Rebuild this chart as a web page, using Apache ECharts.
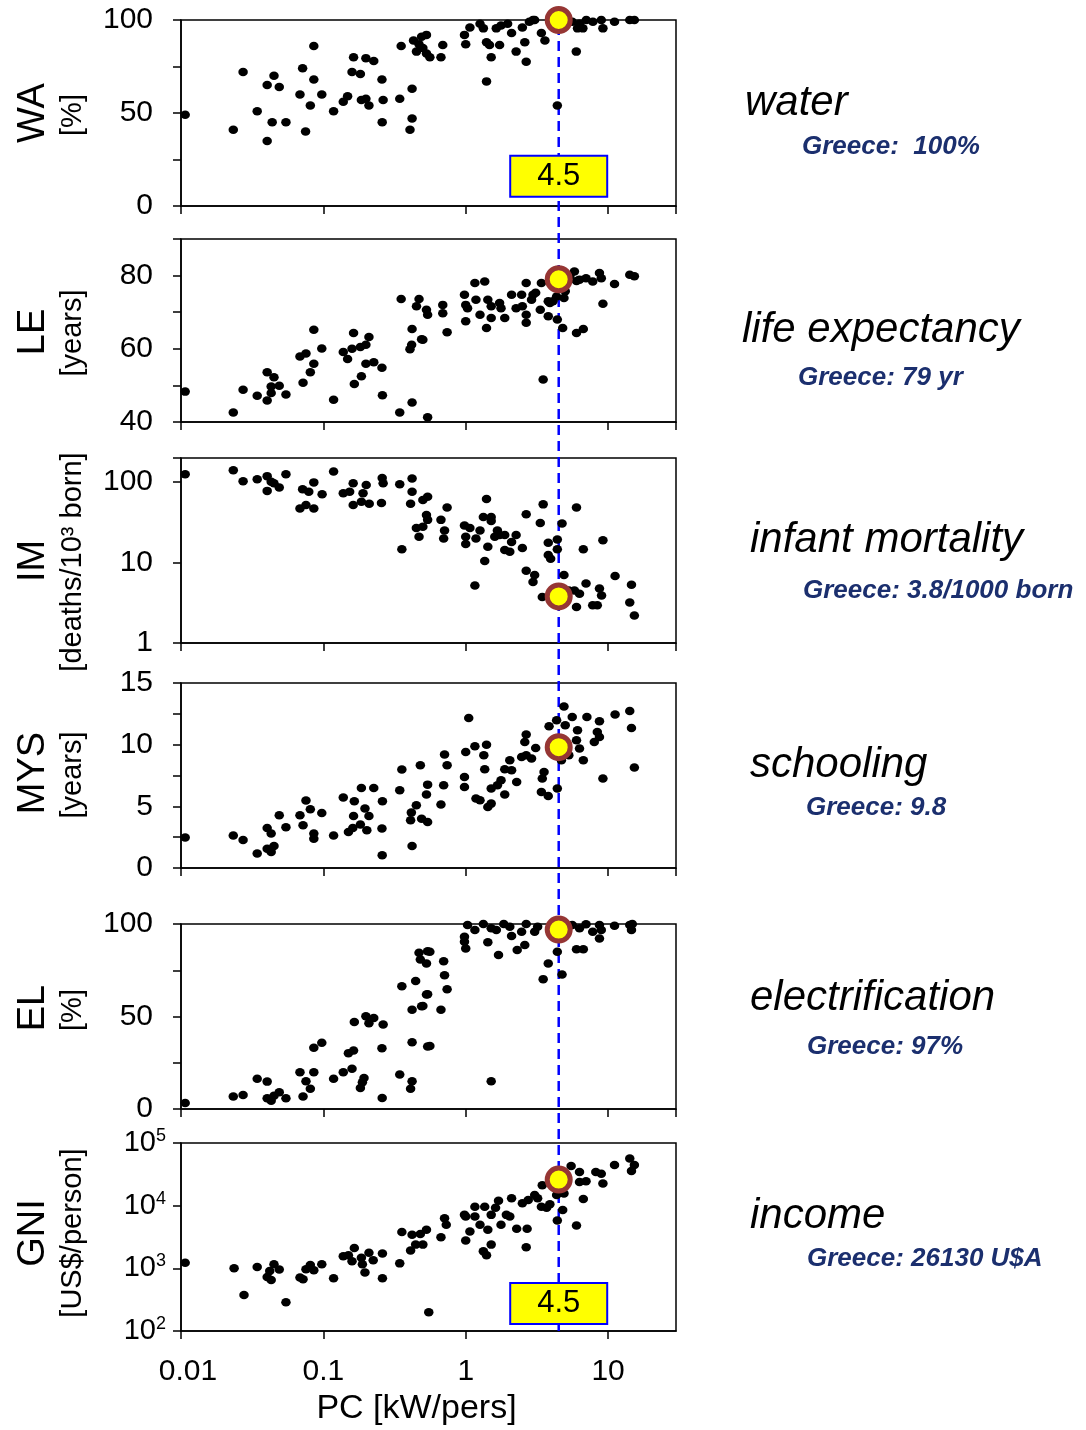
<!DOCTYPE html>
<html>
<head>
<meta charset="utf-8">
<title>Development indicators vs. power consumption</title>
<script src="https://cdn.jsdelivr.net/npm/echarts@6/dist/echarts.min.js"></script>
<style>
  html, body { margin: 0; padding: 0; background: #fff; }
  #chart { width: 1086px; height: 1430px; }
</style>
</head>
<body>
<div id="chart"></div>
<script>
// ---- data: [PC kW/person, indicator] per country ----
const waPoints = [
  [0.0107,49],[0.0233,41],[0.0273,72],[0.0343,51],[0.0403,35],[0.0437,45],[0.0403,65],[0.045,70],
  [0.049,64],[0.0546,45],[0.0685,60],[0.0715,74],[0.075,40],[0.081,54],[0.0857,86],[0.0857,68],
  [0.0975,60],[0.118,51],[0.138,56],[0.148,59],[0.163,80],[0.159,72],[0.182,71],[0.199,79.5],
  [0.226,78],[0.185,57],[0.199,57.6],[0.209,54],[0.258,68],[0.263,57],[0.259,45],[0.344,57.6],
  [0.42,63],[0.42,47],[0.406,41],[0.352,86],[0.43,89],[0.451,83],[0.47,87],[0.49,91],[0.53,92],
  [0.50,85],[0.53,82],[0.56,80],[0.69,86.5],[0.67,80],[0.98,92],[1.0,87],[1.07,96],[1.26,98],
  [1.33,95.5],[1.40,88],[1.47,86.5],[1.51,80],[1.40,67],[1.64,95.5],[1.77,97],[1.97,98],[1.73,86.5],
  [2.1,93],[2.26,83],[2.6,88],[2.66,77.5],[2.5,96],[2.97,100],[3.4,93],[3.6,89],[2.8,99],[3.05,100],
  [5.98,83],[4.4,54],[6.3,98],[6.65,95.5],[7.03,100],[7.82,99],[8.96,100],[9.2,95.5],[11.1,99],
  [14.2,100],[15.3,100],[5.6,99],[6.1,95.5]
];
const lePoints = [
  [0.0107,48.3],[0.0233,42.6],[0.0273,48.8],[0.0343,47.2],[0.0403,53.6],[0.0403,45.9],[0.045,52.2],
  [0.043,49.7],[0.049,49.9],[0.043,47.9],[0.0546,47.5],[0.0685,57.9],[0.0755,58.7],[0.072,50.7],
  [0.081,53.6],[0.0857,55.9],[0.0857,65.2],[0.0975,60.1],[0.118,46.1],[0.138,59.1],[0.148,57.2],
  [0.163,64.3],[0.159,60],[0.182,60.5],[0.199,61.1],[0.209,63.2],[0.165,50.4],[0.185,52.5],
  [0.199,55.9],[0.226,56.3],[0.258,54.8],[0.26,47.3],[0.344,42.6],[0.42,45.3],[0.54,41.3],
  [0.352,73.6],[0.47,73.6],[0.451,71.6],[0.53,70.7],[0.42,65.4],[0.49,62.6],[0.417,61.1],[0.406,59.9],
  [0.54,69.3],[0.50,62.5],[0.69,72],[0.69,69.7],[0.74,64.5],[0.98,74.8],[1.0,72],[1.03,71.1],
  [1.0,67.5],[1.16,78],[1.36,78.4],[1.18,73.4],[1.43,73.4],[1.51,71.6],[1.73,72.5],[1.77,71.1],
  [1.26,69.3],[1.4,65.7],[1.51,68.4],[1.88,68.4],[2.1,74.8],[2.47,74.8],[2.66,78],[2.26,71.1],
  [2.5,71.6],[2.66,69.3],[2.66,67.1],[2.97,74.8],[3.1,75.3],[2.9,73.4],[3.34,70.7],[3.8,68.9],
  [3.8,73],[3.9,72.5],[3.4,78],[3.5,51.6],[4.4,68],[4.8,65.7],[4.1,73],[4.35,74.3],[4.9,73.9],
  [5.0,75.7],[5.4,80],[5.8,81.1],[6.0,78.5],[6.3,78.9],[7.0,79.3],[7.8,78.4],[8.7,80.7],[8.96,79.3],
  [11.1,77.7],[9.2,72.3],[6.0,64.3],[6.7,65.4],[14.2,80.2],[15.3,79.8]
];
const imPoints = [
  [0.0107,126],[0.0233,141],[0.0273,103],[0.0343,109],[0.0403,119],[0.043,101],[0.049,86],[0.0403,78],
  [0.045,97],[0.0546,126],[0.0715,82],[0.0857,99.5],[0.079,76],[0.098,71],[0.0685,47],[0.0755,52],
  [0.0857,47],[0.118,136],[0.138,73],[0.162,97],[0.153,76],[0.2,92],[0.19,73],[0.162,52],[0.185,57],
  [0.21,54],[0.256,55],[0.259,113],[0.263,97],[0.344,94],[0.42,111],[0.42,76],[0.41,54],[0.5,60],
  [0.54,66],[0.53,39],[0.45,27],[0.47,21],[0.356,14.7],[0.54,34],[0.5,28],[0.74,48.5],[0.67,34],
  [0.71,25],[0.70,20],[1.4,62],[1.33,37],[1.51,37],[1.51,33],[0.98,29],[1.07,27],[1.0,21],[1.0,17],
  [1.18,20],[1.26,25],[1.67,25],[1.73,22],[1.6,21],[1.88,22],[1.43,15.7],[1.36,10.5],[1.16,5.2],
  [2.1,18],[2.26,22],[1.88,14.3],[2.04,13.6],[2.5,15.2],[2.66,40],[3.5,53],[3.34,31],[6,48.5],
  [4.75,30.7],[3.8,17.6],[4.4,19.4],[4.4,14.7],[3.8,12.4],[3.95,11.2],[6.7,14.7],[9.2,19],[2.66,7.9],
  [3.05,7.0],[2.97,5.75],[3.45,3.74],[4.9,7.0],[5.0,3.74],[5.3,4.5],[5.8,4.5],[6.0,2.8],[6.3,4.1],
  [7.0,5.5],[7.8,2.95],[8.4,2.95],[8.7,4.75],[9.0,3.9],[11.2,6.8],[14.6,5.3],[14.2,3.2],[15.3,2.2]
];
const mysPoints = [
  [0.0107,2.47],[0.0233,2.63],[0.0273,2.27],[0.0343,1.17],[0.0403,3.24],[0.043,2.79],[0.0403,1.57],
  [0.043,1.3],[0.045,1.78],[0.049,4.27],[0.0546,3.3],[0.0685,4.27],[0.0755,5.47],[0.081,4.76],
  [0.072,3.46],[0.0857,2.79],[0.0857,2.38],[0.0975,4.46],[0.118,2.63],[0.138,5.71],[0.165,5.41],
  [0.163,4.22],[0.15,2.92],[0.161,3.24],[0.185,6.49],[0.226,6.49],[0.196,4.82],[0.209,4.22],
  [0.182,3.52],[0.202,3.06],[0.26,5.41],[0.258,3.2],[0.259,1.03],[0.356,7.98],[0.344,6.3],[0.48,8.33],
  [0.415,4.49],[0.41,3.87],[0.45,5.09],[0.49,4.0],[0.54,6.76],[0.53,5.95],[0.54,3.73],[0.42,1.78],
  [0.71,9.2],[0.74,8.33],[0.70,6.71],[0.67,5.14],[1.05,12.17],[1.0,9.4],[1.16,9.87],[1.4,10.0],
  [1.34,9.14],[0.98,7.38],[0.98,6.57],[1.36,8.0],[1.18,5.63],[1.26,5.49],[1.43,4.95],[1.51,5.22],
  [1.51,6.44],[1.67,6.71],[1.88,5.95],[1.77,7.11],[1.88,8.0],[2.04,8.73],[2.1,7.92],[2.28,6.97],
  [2.47,9.0],[2.66,9.14],[2.9,8.87],[2.6,10.22],[2.66,10.82],[3.1,9.73],[3.55,7.79],[3.45,7.25],
  [3.4,6.16],[3.8,5.84],[4.4,6.44],[3.85,11.49],[4.35,11.98],[4.9,13.1],[5.0,11.57],[5.6,12.25],
  [6.1,11.17],[6.0,10.36],[6.3,9.68],[5.3,9.14],[4.7,8.73],[7.1,12.25],[8.7,11.9],[8.4,11.03],
  [8.7,10.62],[8.0,10.22],[6.7,8.73],[9.2,7.25],[11.2,12.44],[14.2,12.73],[14.6,11.35],[15.3,8.14]
];
const elPoints = [
  [0.0107,3.3],[0.0233,6.7],[0.0273,7.6],[0.0343,16.3],[0.0403,14.8],[0.0403,5.8],[0.043,4.5],
  [0.045,7.2],[0.049,9],[0.0546,5.8],[0.0685,19.9],[0.0857,19.9],[0.0755,15],[0.081,10.9],[0.072,6.7],
  [0.0857,33.1],[0.0975,35.8],[0.118,16.3],[0.138,19.9],[0.159,21.7],[0.15,30.2],[0.163,31.6],
  [0.165,47],[0.199,50.1],[0.226,49.2],[0.209,46.4],[0.263,45.7],[0.258,32.9],[0.193,16.8],
  [0.182,11.4],[0.188,14.4],[0.259,6],[0.344,18.6],[0.42,15],[0.41,10.9],[0.42,36.1],[0.54,33.8],
  [0.356,66.4],[0.445,69.2],[0.42,53.7],[0.49,55.5],[0.54,62],[0.47,84.4],[0.48,80.8],[0.54,85.3],
  [0.53,78.7],[0.56,85],[0.7,79.9],[0.71,72.3],[0.74,64.7],[0.67,53.7],[0.53,61.9],[0.5,55.7],
  [0.56,34],[1.51,15],[0.98,93.1],[0.98,90.4],[1.0,86.8],[1.03,99.5],[1.16,96.7],[1.33,100],
  [1.51,97.7],[1.64,96.7],[1.85,100],[2.04,98.5],[1.43,90.1],[1.7,83.2],[2.1,93.5],[2.3,85.9],
  [2.6,88.6],[2.47,95.8],[2.66,100],[3.05,95.8],[3.2,98.5],[3.8,78.7],[3.5,70.2],[4.4,85],
  [4.75,72.7],[6.0,86.3],[6.7,86.4],[5.6,99.5],[6.3,97.7],[7.0,99.9],[8.7,99.5],[7.8,95.8],
  [8.96,96.7],[8.7,92.2],[11.1,99.1],[14.2,99.5],[14.8,100],[14.6,96.7]
];
const gniPoints = [
  [0.0107,1230],[0.0236,1000],[0.0277,374],[0.0343,1050],[0.0403,730],[0.043,650],[0.045,1160],
  [0.049,960],[0.042,910],[0.0546,287],[0.0685,713],[0.072,670],[0.0755,964],[0.081,1130],[0.0857,930],
  [0.0975,1157],[0.118,695],[0.138,1563],[0.15,1620],[0.165,2120],[0.159,1300],[0.185,1475],
  [0.188,1157],[0.196,855],[0.209,1770],[0.224,1340],[0.26,1730],[0.26,695],[0.344,1200],[0.356,3800],
  [0.42,3440],[0.48,3530],[0.53,4130],[0.41,1920],[0.445,2390],[0.5,2390],[0.55,200],[0.71,6300],
  [0.73,4950],[0.67,3120],[0.98,7130],[1.0,6700],[1.07,3880],[1.0,2770],[1.16,9640],[1.16,6700],
  [1.26,4950],[1.36,9640],[1.43,4130],[1.51,2390],[1.33,1875],[1.4,1620],[1.51,7130],[1.62,9300],
  [1.7,12000],[1.77,4950],[1.93,7130],[2.04,6700],[2.1,13100],[2.28,4290],[2.7,4290],[2.66,2170],
  [2.5,10900],[2.75,12300],[3.05,14800],[3.2,13100],[3.4,9640],[3.7,9300],[3.9,10500],[3.45,21200],
  [4.4,5790],[4.8,8560],[6.0,4830],[6.7,12800],[5.5,42900],[6.3,34400],[6.3,23900],[7.0,24500],
  [8.2,34400],[8.96,32400],[9.2,22500],[4.35,14800],[4.9,15700],[11.1,44400],[14.2,56600],
  [15.3,44400],[14.6,35700]
];

// highlighted country
const greecePC = 4.5;
const greeceValues = [100, 79, 3.8, 9.8, 97, 26130];
const greeceTemplates = ['Greece:  {v}%', 'Greece: {v} yr', 'Greece: {v}/1000 born',
                         'Greece: {v}', 'Greece: {v}%', 'Greece: {v} U$A'];

// texts and tick labels
const indicatorNames = ['WA', 'LE', 'IM', 'MYS', 'EL', 'GNI'];
const indicatorUnits = ['[%]', '[years]', '[deaths/10\u00B3 born]', '[years]', '[%]', '[US$/person]'];
const indicatorTitles = ['water', 'life expectancy', 'infant mortality', 'schooling', 'electrification', 'income'];
const xTickLabels = ['0.01', '0.1', '1', '10'];
const waTickLabels = [0, 50, 100];
const leTickLabels = [40, 60, 80];
const imTickLabels = [1, 10, 100];
const mysTickLabels = [0, 5, 10, 15];
const elTickLabels = [0, 50, 100];
const gniTickLabels = [100, 1000, 10000, 100000];

// ---- layout / styling ----
const FONT = '"Liberation Sans", Arial, Helvetica, sans-serif';
const PLOT_LEFT = 181, PLOT_RIGHT = 410;
const panelData = [waPoints, lePoints, imPoints, mysPoints, elPoints, gniPoints];
const panelTicks = [waTickLabels, leTickLabels, imTickLabels, mysTickLabels, elTickLabels, gniTickLabels];
const scales = [
  { type: 'value', min: 0, max: 100, interval: 25 },
  { type: 'value', min: 40, max: 90, interval: 10 },
  { type: 'log', min: 1, max: 200 },
  { type: 'value', min: 0, max: 15, interval: 2.5 },
  { type: 'value', min: 0, max: 100, interval: 25 },
  { type: 'log', min: 100, max: 100000 }
];
const layout = [
  { top: 20,   height: 186, nameY: 113,  unitY: 115,  titleX: 745, titleY: 103,  gX: 802, gY: 147 },
  { top: 239,  height: 183, nameY: 332,  unitY: 333,  titleX: 742, titleY: 330,  gX: 798, gY: 378 },
  { top: 458,  height: 185, nameY: 561,  unitY: 562,  titleX: 750, titleY: 540,  gX: 803, gY: 591 },
  { top: 683,  height: 185, nameY: 773,  unitY: 775,  titleX: 750, titleY: 765,  gX: 806, gY: 808 },
  { top: 924,  height: 185, nameY: 1008, unitY: 1010, titleX: 750, titleY: 998,  gX: 807, gY: 1047 },
  { top: 1143, height: 188, nameY: 1233, unitY: 1233, titleX: 750, titleY: 1216, gX: 807, gY: 1259 }
];
// vertical level (in each panel's own units) of the PC value boxes
const pcBoxLevels = [{ panel: 0, level: 16 }, { panel: 5, level: 275 }];

const near = (a, b) => Math.abs(a - b) <= 1e-6 * Math.max(1, Math.abs(b));

const grids = [], xAxes = [], yAxes = [], series = [], graphics = [];

layout.forEach((L, i) => {
  const last = i === layout.length - 1;
  const sc = scales[i];
  grids.push({
    left: PLOT_LEFT, right: PLOT_RIGHT, top: L.top, height: L.height,
    show: true, borderColor: '#000', borderWidth: 1.5, backgroundColor: 'transparent',
    containLabel: false, outerBoundsMode: 'none'
  });
  xAxes.push({
    gridIndex: i, type: 'log', logBase: 10, min: 0.01, max: 30,
    axisLine: { show: true, lineStyle: { color: '#000', width: 1.5 } },
    axisTick: { show: true, inside: false, length: 8, lineStyle: { color: '#000', width: 1.5 } },
    splitLine: { show: false }, minorTick: { show: false },
    axisLabel: {
      show: last, fontSize: 30, color: '#000', fontFamily: FONT, margin: 26,
      showMaxLabel: false,
      formatter: v => {
        const e = Math.log10(v), r = Math.round(e);
        const s = (Math.abs(e - r) < 1e-6 && xTickLabels[r + 2]) || '';
        // first label sits a little to the right of the axis corner
        return r === -2 && s ? '{first|' + s + '}' : s;
      },
      rich: { first: { fontSize: 30, fontFamily: FONT, color: '#000', padding: [0, 0, 0, 14] } }
    },
    name: last ? 'PC [kW/pers]' : '', nameLocation: 'middle', nameGap: 61,
    nameTextStyle: { fontSize: 34, color: '#000', fontFamily: FONT, padding: [0, 24, 0, 0] }
  });
  const ticks = panelTicks[i];
  const yLabel = {
    show: true, color: '#000', fontFamily: FONT, fontSize: 30, margin: 28,
    formatter: v => (ticks.some(t => near(v, t)) ? String(Math.round(v)) : '')
  };
  if (i === 5) {
    yLabel.margin = 15;
    yLabel.formatter = v => {
      const t = ticks.find(t => near(v, t));
      return t ? '{b|10}{s|' + Math.round(Math.log10(t)) + '}' : '';
    };
    yLabel.rich = {
      b: { fontSize: 29, fontFamily: FONT, color: '#000', lineHeight: 32 },
      s: { fontSize: 18, fontFamily: FONT, color: '#000', verticalAlign: 'top', lineHeight: 18 }
    };
  }
  yAxes.push(Object.assign({
    gridIndex: i,
    axisLine: { show: true, lineStyle: { color: '#000', width: 1.5 } },
    axisTick: { show: true, inside: false, length: 8, lineStyle: { color: '#000', width: 1.5 } },
    splitLine: { show: false }, minorTick: { show: false },
    axisLabel: yLabel
  }, sc, sc.type === 'log' ? { logBase: 10 } : {}));

  // country dots
  series.push({
    type: 'scatter', xAxisIndex: i, yAxisIndex: i, data: panelData[i],
    symbol: 'circle', symbolSize: [9.5, 8.5], clip: false, silent: true, z: 2,
    itemStyle: { color: '#000', opacity: 1 }
  });
  // Greece marker
  series.push({
    type: 'scatter', xAxisIndex: i, yAxisIndex: i, data: [[greecePC, greeceValues[i]]],
    symbol: 'circle', symbolSize: 23, clip: false, silent: true, z: 5,
    itemStyle: { color: '#ffff00', borderColor: '#963634', borderWidth: 5, opacity: 1 }
  });

  // axis titles (rotated) and right-hand descriptions
  graphics.push({
    type: 'text', x: 34, y: L.nameY, rotation: Math.PI / 2, silent: true,
    style: { text: indicatorNames[i], font: '38px ' + FONT, fill: '#000',
             align: 'center', verticalAlign: 'middle', textAlign: 'center', textVerticalAlign: 'middle' }
  });
  graphics.push({
    type: 'text', x: 73, y: L.unitY, rotation: Math.PI / 2, silent: true,
    style: { text: indicatorUnits[i], font: '29px ' + FONT, fill: '#000',
             align: 'center', verticalAlign: 'middle', textAlign: 'center', textVerticalAlign: 'middle' }
  });
  graphics.push({
    type: 'text', x: L.titleX, y: L.titleY, silent: true,
    style: { text: indicatorTitles[i], font: 'italic 42px ' + FONT, fill: '#000',
             align: 'left', verticalAlign: 'middle', textAlign: 'left', textVerticalAlign: 'middle' }
  });
  graphics.push({
    type: 'text', x: L.gX, y: L.gY, silent: true,
    style: { text: greeceTemplates[i].replace('{v}', String(greeceValues[i])),
             font: 'italic bold 26px ' + FONT, fill: '#1b2f6e',
             align: 'left', verticalAlign: 'middle', textAlign: 'left', textVerticalAlign: 'middle' }
  });
});

// boxes showing Greece's PC value
pcBoxLevels.forEach(b => {
  series.push({
    type: 'scatter', xAxisIndex: b.panel, yAxisIndex: b.panel, data: [[greecePC, b.level]],
    symbol: 'circle', symbolSize: 1, clip: false, silent: true, z: 6,
    itemStyle: { color: 'rgba(255,255,0,0)', opacity: 1 },
    label: {
      show: true, position: 'inside', formatter: p => String(p.value[0]), opacity: 1,
      fontSize: 31, fontFamily: FONT, color: '#000',
      backgroundColor: '#ffff00', borderColor: '#0000ff', borderWidth: 2,
      width: 95, height: 39, lineHeight: 39, align: 'center', verticalAlign: 'middle', padding: 0
    }
  });
});

// overlay spanning all panels for the dashed PC line (drawn beneath markers and boxes)
const overlay = layout.length;
grids.push({ left: PLOT_LEFT, right: PLOT_RIGHT, top: layout[0].top,
             height: layout[5].top + layout[5].height - layout[0].top, show: false, outerBoundsMode: 'none' });
xAxes.push({ gridIndex: overlay, type: 'log', logBase: 10, min: 0.01, max: 30, show: false });
yAxes.push({ gridIndex: overlay, type: 'value', min: 0, max: 1, show: false });
series.push({
  type: 'line', xAxisIndex: overlay, yAxisIndex: overlay,
  data: [[greecePC, 0], [greecePC, 1]], symbol: 'none', silent: true, z: 1,
  lineStyle: { color: '#0000ff', width: 2.5, type: [10, 6] }
});

const chart = echarts.init(document.getElementById('chart'), null, { renderer: 'canvas' });
chart.setOption({
  animation: false,
  backgroundColor: '#fff',
  textStyle: { fontFamily: FONT },
  grid: grids, xAxis: xAxes, yAxis: yAxes, series: series,
  graphic: { elements: graphics }
});
</script>
</body>
</html>
